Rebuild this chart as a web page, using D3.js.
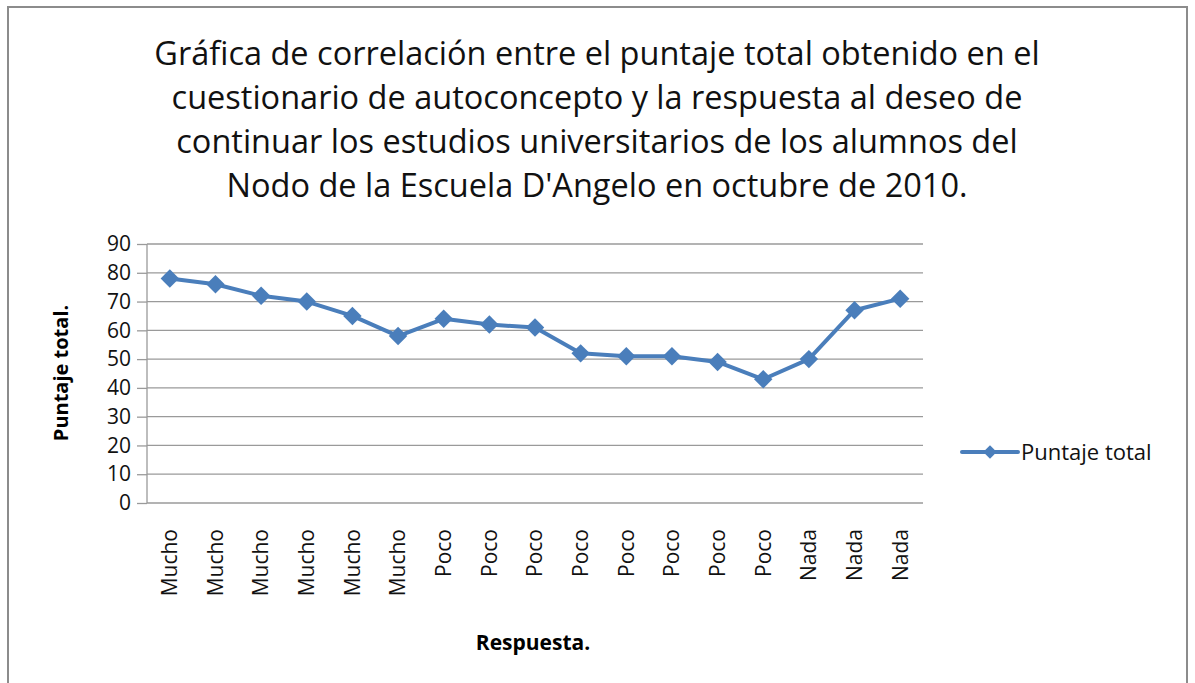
<html>
<head>
<meta charset="utf-8">
<style>
  body { margin: 0; background: #fff; }
  text { font-family: "Open Sans", "Noto Sans", sans-serif; fill: #000; }
  .grid line { stroke: #9a9a9a; stroke-width: 1.3; }
  .axis path, .axis line { stroke: #9a9a9a; stroke-width: 1.3; }
  .axis text { font-size: 21px; fill: #111; }
  .serie { fill: none; stroke: #4a7ebb; stroke-width: 4; stroke-linejoin: round; }
</style>
<script src="https://cdn.jsdelivr.net/npm/d3@7"></script>
</head>
<body>
<svg id="chart" width="1195" height="683"></svg>
<script>
// datos
const respuestas = ["Mucho","Mucho","Mucho","Mucho","Mucho","Mucho",
                    "Poco","Poco","Poco","Poco","Poco","Poco","Poco","Poco",
                    "Nada","Nada","Nada"];
const puntajes = [78, 76, 72, 70, 65, 58, 64, 62, 61, 52, 51, 51, 49, 43, 50, 67, 71];
const yTicks = [0, 10, 20, 30, 40, 50, 60, 70, 80, 90];
const titulo = [
  "Gráfica de correlación entre el puntaje total obtenido en el",
  "cuestionario de autoconcepto y la respuesta al deseo de",
  "continuar los estudios universitarios de los alumnos del",
  "Nodo de la Escuela D'Angelo en octubre de 2010."
];
const serieNombre = "Puntaje total";

const svg = d3.select("#chart");

// marco exterior
svg.append("rect")
  .attr("x", 8).attr("y", 7)
  .attr("width", 1179).attr("height", 700)
  .attr("fill", "none").attr("stroke", "#8c8c8c").attr("stroke-width", 2);

// titulo
svg.append("g").selectAll("text")
  .data(titulo)
  .join("text")
  .attr("x", 597)
  .attr("y", (d, i) => 65 + i * 44)
  .attr("text-anchor", "middle")
  .style("font-size", "32.5px")
  .style("fill", "#111")
  .text(d => d);

const mIzq = 147, mDer = 923, mSup = 244, mInf = 503;

// indices para la escala de bandas (categorias repetidas)
let idx = respuestas.map((d, i) => i);

let xScale = d3.scaleBand()
  .domain(idx)
  .range([mIzq, mDer]);

let yScale = d3.scaleLinear()
  .domain([0, 90])
  .range([mInf, mSup]);

// lineas de cuadricula
svg.append("g").attr("class", "grid")
  .selectAll("line")
  .data(yTicks)
  .join("line")
  .attr("x1", mIzq).attr("x2", mDer)
  .attr("y1", d => yScale(d)).attr("y2", d => yScale(d));

// eje y
let yAxis = svg.append("g")
  .attr("class", "axis")
  .attr("transform", "translate(" + mIzq + ",0)")
  .call(d3.axisLeft(yScale).tickValues(yTicks).tickSize(10).tickPadding(6));
yAxis.select(".domain").remove();
svg.append("line")
  .attr("x1", mIzq).attr("x2", mIzq)
  .attr("y1", mSup).attr("y2", mInf)
  .attr("stroke", "#9a9a9a").attr("stroke-width", 1.3);

// eje x
let xAxis = svg.append("g")
  .attr("class", "axis")
  .attr("transform", "translate(0," + mInf + ")")
  .call(d3.axisBottom(xScale).tickSize(0).tickFormat(i => respuestas[i]));
xAxis.select(".domain").remove();
xAxis.selectAll("text")
  .attr("transform", "rotate(-90)")
  .attr("text-anchor", "end")
  .attr("x", -26)
  .attr("y", 0)
  .attr("dy", "0.35em");

// titulos de ejes
svg.append("text")
  .attr("transform", "translate(68,373) rotate(-90)")
  .attr("text-anchor", "middle")
  .style("font-size", "20px")
  .style("font-weight", "bold")
  .text("Puntaje total.");

svg.append("text")
  .attr("x", 533).attr("y", 650)
  .attr("text-anchor", "middle")
  .style("font-size", "21px")
  .style("font-weight", "bold")
  .text("Respuesta.");

// serie
let cx = i => xScale(i) + xScale.bandwidth() / 2;
let linea = d3.line()
  .x((d, i) => cx(i))
  .y(d => yScale(d));

svg.append("path")
  .datum(puntajes)
  .attr("class", "serie")
  .attr("d", linea);

// rombos: cuadrado girado 45 grados
let rombo = d3.symbol().type(d3.symbolSquare).size(170);
svg.append("g").selectAll("path")
  .data(puntajes)
  .join("path")
  .attr("transform", (d, i) => "translate(" + cx(i) + "," + yScale(d) + ") rotate(45)")
  .attr("d", rombo)
  .attr("fill", "#4a7ebb");

// leyenda
let leyenda = svg.append("g").attr("transform", "translate(962,452)");
leyenda.append("line")
  .attr("x1", 0).attr("x2", 56)
  .attr("stroke", "#4a7ebb").attr("stroke-width", 4).attr("stroke-linecap", "round");
leyenda.append("path")
  .attr("transform", "translate(28,0) rotate(45)")
  .attr("d", d3.symbol().type(d3.symbolSquare).size(90))
  .attr("fill", "#4a7ebb");
leyenda.append("text")
  .attr("x", 59).attr("y", 0).attr("dy", "0.35em")
  .style("font-size", "22px")
  .style("fill", "#111")
  .text(serieNombre);
</script>
</body>
</html>
